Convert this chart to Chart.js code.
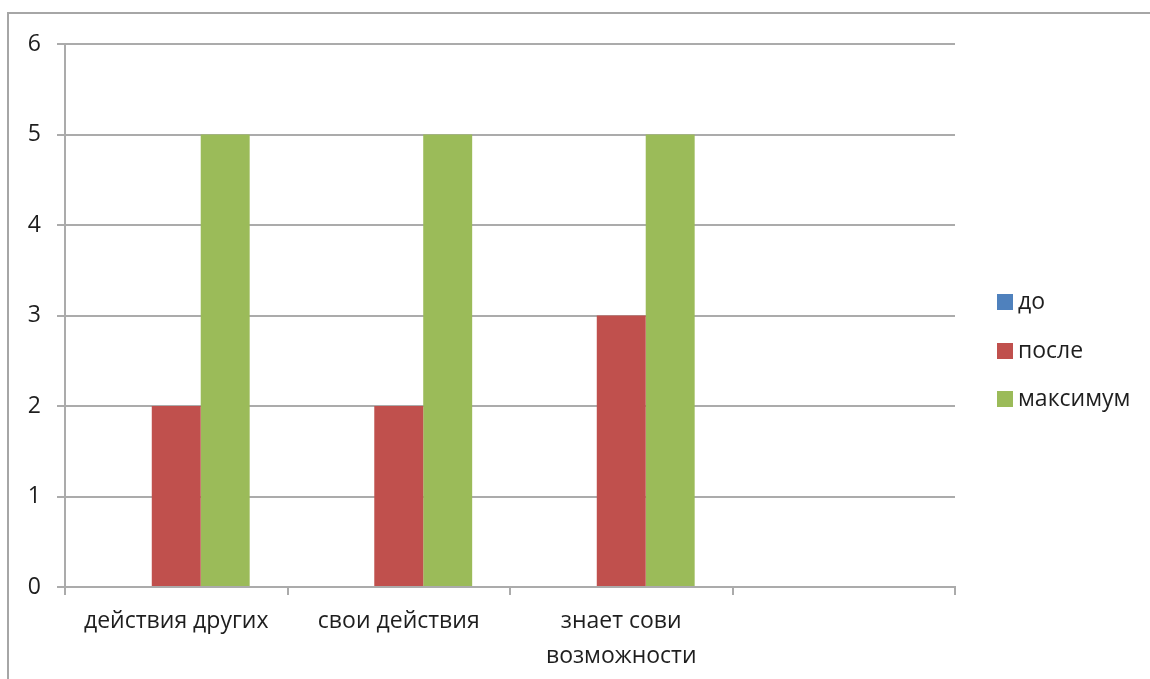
<!DOCTYPE html>
<html lang="ru">
<head>
<meta charset="utf-8">
<title>до / после / максимум</title>
<script src="https://cdn.jsdelivr.net/npm/chart.js@4/dist/chart.umd.min.js"></script>
<style>
  html, body { margin: 0; padding: 0; background: #fff; }
  #wrap { position: relative; width: 1150px; height: 679px; }
</style>
</head>
<body>
<div id="wrap"><canvas id="chart"></canvas></div>
<script>
// ----- Data -----
const categories = ['действия других', 'свои действия', ['знает сови', 'возможности'], ''];
const seriesNames = ['до', 'после', 'максимум'];
const beforeValues = [0, 0, 0, null];
const afterValues  = [2, 2, 3, null];
const maxValues    = [5, 5, 5, null];
const yTicks = [0, 1, 2, 3, 4, 5, 6];

const colors = ['#4F81BD', '#C0504D', '#9BBB59'];
const textColor = '#1e1e1e';
const gridColor = '#ababab';
const fontFamily = "'Open Sans', 'DejaVu Sans', sans-serif";
const fontSize = 23;

// ----- Outer frame + legend drawn on canvas -----
const framePlugin = {
  id: 'frame',
  beforeDraw(chart) {
    const ctx = chart.ctx;
    ctx.save();
    ctx.strokeStyle = '#a6a6a6';
    ctx.lineWidth = 2;
    ctx.strokeRect(8, 13, 1200, 700);
    ctx.restore();
  }
};

const legendPlugin = {
  id: 'sideLegend',
  afterDraw(chart) {
    const ctx = chart.ctx;
    const rowsY = [302, 351, 399];
    ctx.save();
    ctx.font = fontSize + 'px ' + fontFamily;
    ctx.textBaseline = 'middle';
    chart.data.datasets.forEach((ds, i) => {
      ctx.fillStyle = ds.backgroundColor;
      ctx.fillRect(997, rowsY[i] - 8, 16, 16);
      ctx.fillStyle = textColor;
      ctx.fillText(ds.label, 1018, rowsY[i]);
    });
    ctx.restore();
  }
};

new Chart(document.getElementById('chart'), {
  type: 'bar',
  data: {
    labels: categories,
    datasets: [
      { label: seriesNames[0], data: beforeValues, backgroundColor: colors[0] },
      { label: seriesNames[1], data: afterValues,  backgroundColor: colors[1] },
      { label: seriesNames[2], data: maxValues,    backgroundColor: colors[2] }
    ]
  },
  options: {
    responsive: true,
    maintainAspectRatio: false,
    animation: false,
    datasets: { bar: { categoryPercentage: 0.66, barPercentage: 1.0 } },
    layout: { padding: { left: 0, top: 44, right: 195, bottom: 0 } },
    plugins: {
      legend: { display: false },
      tooltip: { enabled: false }
    },
    scales: {
      x: {
        afterFit: scale => { scale.height = 92; },
        grid: { drawOnChartArea: false, drawTicks: true, tickLength: 8, color: gridColor, lineWidth: 2 },
        border: { display: true, color: gridColor, width: 2 },
        ticks: {
          color: textColor,
          padding: 9,
          maxRotation: 0,
          autoSkip: false,
          font: { family: fontFamily, size: fontSize, lineHeight: 1.52 }
        }
      },
      y: {
        min: 0,
        max: 6,
        afterFit: scale => { scale.width = 65; },
        afterBuildTicks: scale => { scale.ticks = yTicks.map(v => ({ value: v })); },
        grid: { drawTicks: true, tickLength: 8, color: gridColor, lineWidth: 2 },
        border: { display: true, color: gridColor, width: 2 },
        ticks: {
          color: textColor,
          padding: 16,
          font: { family: fontFamily, size: fontSize }
        }
      }
    }
  },
  plugins: [framePlugin, legendPlugin]
});
</script>
</body>
</html>
